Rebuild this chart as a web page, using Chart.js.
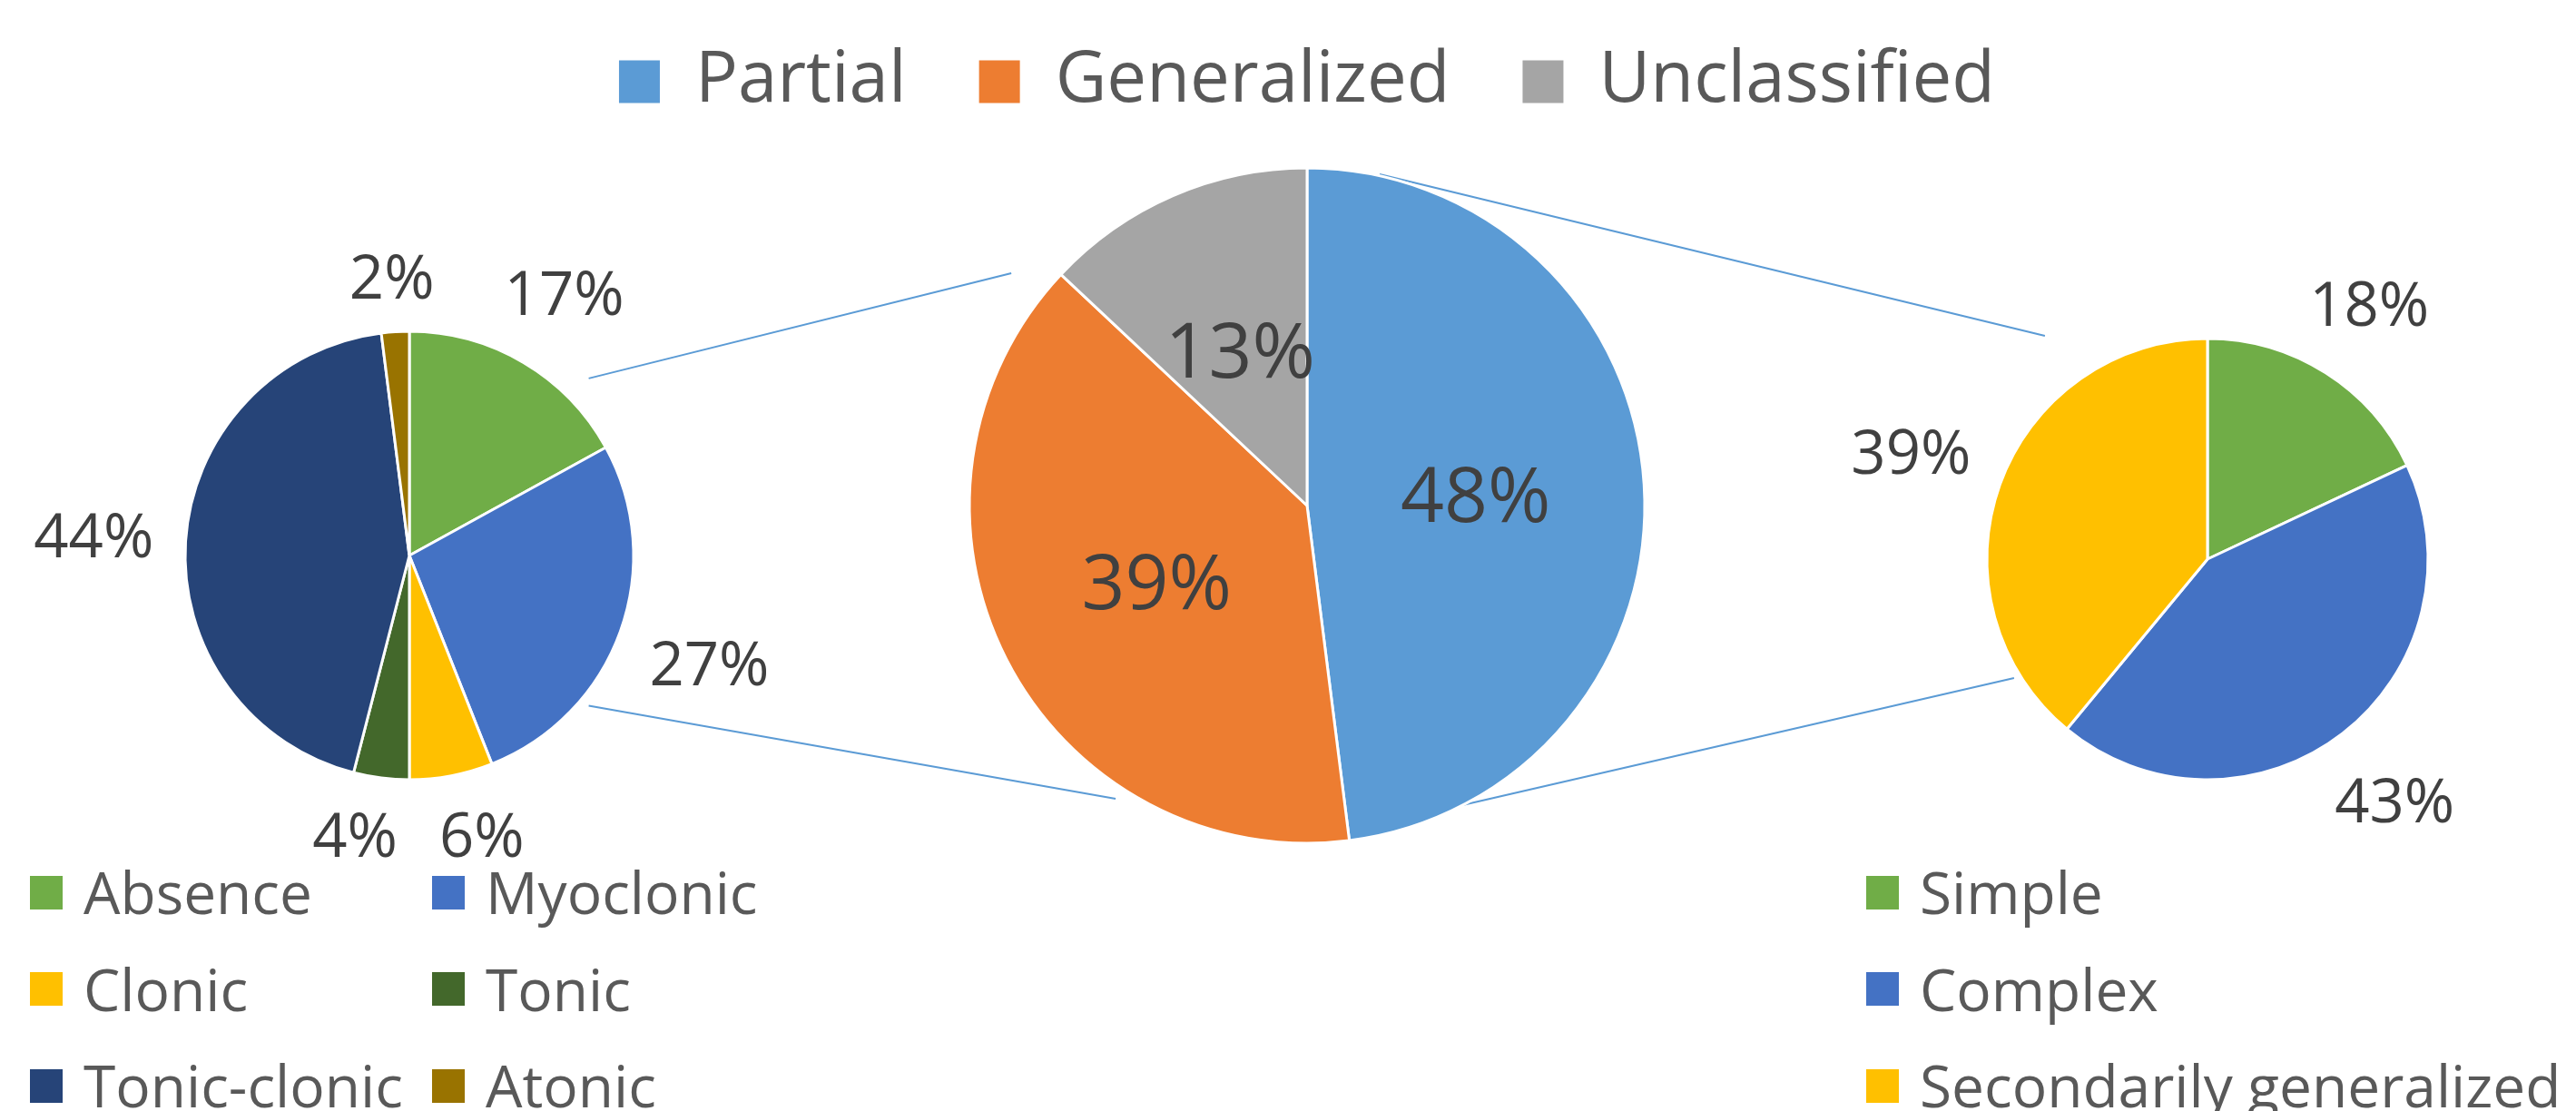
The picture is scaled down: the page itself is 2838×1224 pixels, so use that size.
<!DOCTYPE html>
<html>
<head>
<meta charset="utf-8">
<script src="https://cdn.jsdelivr.net/npm/chart.js@4.4.1/dist/chart.umd.min.js"></script>
<style>
  body { margin: 0; background: #fff; }
  #wrap { position: relative; width: 2838px; height: 1224px; overflow: hidden; font-family: 'Open Sans', sans-serif; }
  canvas { position: absolute; top: 0; }
  #leftPie { left: 0; }
  #rightPie { left: 2026px; }
  #mainPie { left: 0; }
  .legend { position: absolute; top: 930px; display: grid; color: #595959; font-size: 64px; }
  .legend .item { display: flex; align-items: center; height: 106.5px; white-space: nowrap; }
  .legend .item span:last-child { line-height: 106.5px; }
  .legend .box { width: 36px; height: 37px; margin-right: 23px; flex: none; }
  #leftLegend { left: 33px; grid-template-columns: 443px auto; }
  #rightLegend { left: 2056px; grid-template-columns: auto; }
</style>
</head>
<body>
<div id="wrap">
  <canvas id="leftPie" width="902" height="1224"></canvas>
  <canvas id="rightPie" width="812" height="1224"></canvas>
  <canvas id="mainPie" width="2838" height="1224"></canvas>
  <div class="legend" id="leftLegend"></div>
  <div class="legend" id="rightLegend"></div>
</div>
<script>
// data
const mainLabels = ['Partial', 'Generalized', 'Unclassified']
const mainValues = [48, 39, 13]

const generalizedLabels = ['Absence', 'Myoclonic', 'Clonic', 'Tonic', 'Tonic-clonic', 'Atonic']
const generalizedValues = [17, 27, 6, 4, 44, 2]

const partialLabels = ['Simple', 'Complex', 'Secondarily generalized']
const partialValues = [18, 43, 39]

// colores
const mainColors = ['#5B9BD5', '#ED7D31', '#A5A5A5']
const generalizedColors = ['#70AD47', '#4472C4', '#FFC000', '#43682B', '#264478', '#997300']
const partialColors = ['#70AD47', '#4472C4', '#FFC000']

const FONT = "'Open Sans', sans-serif"
const pies = {}

// porcentajes sobre / fuera de cada sector
const pctLabels = {
  id: 'pctLabels',
  afterDatasetsDraw(chart, args, opts) {
    const ctx = chart.ctx
    const values = chart.data.datasets[0].data
    const capH = opts.size * 0.714
    ctx.save()
    ctx.font = `${opts.size}px ${FONT}`
    ctx.fillStyle = '#404040'
    ctx.textAlign = 'center'
    ctx.textBaseline = 'alphabetic'
    const boxes = chart.getDatasetMeta(0).data.map((arc, i) => {
      const {x, y, startAngle, endAngle, outerRadius} = arc.getProps(['x', 'y', 'startAngle', 'endAngle', 'outerRadius'], true)
      const mid = (startAngle + endAngle) / 2
      const cos = Math.cos(mid)
      const sin = Math.sin(mid)
      const text = values[i] + '%'
      const w = ctx.measureText(text).width
      const d = opts.inside
        ? outerRadius * 0.5
        : outerRadius + opts.gap + Math.abs(cos) * w / 2 + Math.abs(sin) * capH / 2
      return {text, w, x: x + cos * d, y: y + sin * d}
    })
    // separar etiquetas que quedan muy juntas
    if (!opts.inside) {
      boxes.forEach((a, i) => boxes.slice(i + 1).forEach(b => {
        if (Math.abs(a.y - b.y) > capH) return
        const [l, r] = a.x < b.x ? [a, b] : [b, a]
        const space = (r.x - r.w / 2) - (l.x + l.w / 2)
        if (space < opts.minSpace) {
          const push = (opts.minSpace - space) / 2
          l.x -= push
          r.x += push
        }
      }))
    }
    boxes.forEach(b => ctx.fillText(b.text, b.x, b.y + capH / 2))
    ctx.restore()
  }
}

// lineas que unen los graficos
const connectors = {
  id: 'connectors',
  beforeDatasetsDraw(chart, args, opts) {
    const ctx = chart.ctx
    const geom = (name) => {
      const c = name === 'main' ? chart : pies[name]
      const arc = c.getDatasetMeta(0).data[0]
      return {x: arc.x + c.canvas.offsetLeft - chart.canvas.offsetLeft, y: arc.y + c.canvas.offsetTop - chart.canvas.offsetTop, r: arc.outerRadius}
    }
    ctx.save()
    ctx.strokeStyle = opts.color
    ctx.lineWidth = opts.width
    opts.lines.forEach(l => {
      const a = geom(l.from)
      const b = geom(l.to)
      ctx.beginPath()
      ctx.moveTo(a.x + l.fromAt[0] * a.r, a.y + l.fromAt[1] * a.r)
      ctx.lineTo(b.x + l.toAt[0] * b.r, b.y + l.toAt[1] * b.r)
      ctx.stroke()
    })
    ctx.restore()
  }
}

function pieConfig(labels, values, colors, radius, extra) {
  return {
    type: 'pie',
    data: {
      labels: labels,
      datasets: [{
        data: values,
        backgroundColor: colors,
        borderColor: '#ffffff',
        borderWidth: 3
      }]
    },
    options: Object.assign({
      responsive: false,
      devicePixelRatio: 1,
      animation: false,
      radius: radius,
      plugins: {
        legend: { display: false },
        tooltip: { enabled: false },
        pctLabels: { inside: false, size: 67, gap: 34, minSpace: 46 }
      }
    }, extra),
    plugins: [pctLabels]
  }
}

// graficos laterales
pies.left = new Chart(document.querySelector('#leftPie'),
  pieConfig(generalizedLabels, generalizedValues, generalizedColors, 247, {}))

pies.right = new Chart(document.querySelector('#rightPie'),
  pieConfig(partialLabels, partialValues, partialColors, 243, { layout: { padding: { top: 8 } } }))

// grafico central
const mainCfg = pieConfig(mainLabels, mainValues, mainColors, 372, {
  layout: { padding: { top: -29, bottom: 249, left: 72, right: 30 } }
})
mainCfg.options.plugins.pctLabels = { inside: true, size: 84 }
mainCfg.options.plugins.legend = {
  display: true,
  position: 'top',
  labels: {
    color: '#595959',
    font: { family: FONT, size: 78 },
    boxWidth: 45,
    boxHeight: 47,
    padding: 80,
    generateLabels: (chart) => Chart.overrides.doughnut.plugins.legend.labels.generateLabels(chart)
      .map(item => Object.assign(item, { lineWidth: 0 }))
  }
}
mainCfg.options.plugins.connectors = {
  color: '#5B9BD5',
  width: 2,
  lines: [
    { from: 'left', fromAt: [0.80, -0.79], to: 'main', toAt: [-0.876, -0.688] },
    { from: 'left', fromAt: [0.80, 0.67], to: 'main', toAt: [-0.567, 0.868] },
    { from: 'main', fromAt: [0.215, -0.981], to: 'right', toAt: [-0.737, -1.012] },
    { from: 'main', fromAt: [0.46, 0.887], to: 'right', toAt: [-0.877, 0.539] }
  ]
}
mainCfg.plugins.push(connectors)
pies.main = new Chart(document.querySelector('#mainPie'), mainCfg)

// leyendas de abajo, hechas con los items de Chart.js
function buildLegend(el, chart) {
  Chart.overrides.doughnut.plugins.legend.labels.generateLabels(chart).forEach(item => {
    const row = document.createElement('div')
    row.className = 'item'
    const box = document.createElement('span')
    box.className = 'box'
    box.style.background = item.fillStyle
    const txt = document.createElement('span')
    txt.textContent = item.text
    row.append(box, txt)
    el.append(row)
  })
}
buildLegend(document.querySelector('#leftLegend'), pies.left)
buildLegend(document.querySelector('#rightLegend'), pies.right)
</script>
</body>
</html>
